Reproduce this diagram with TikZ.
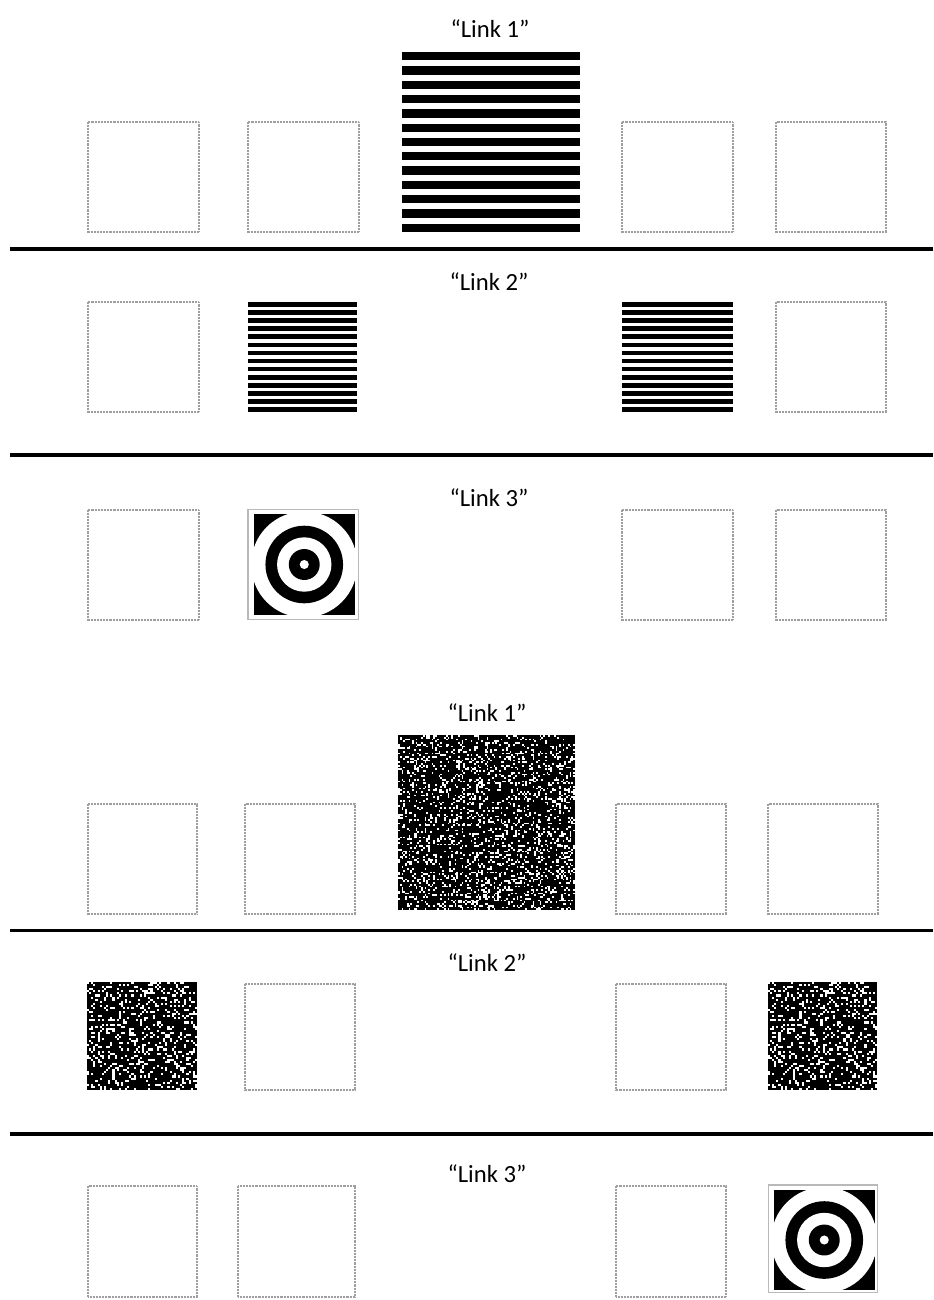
\documentclass[tikz,border=0pt]{standalone}
\usepackage{fontspec}
\setmainfont{Carlito}
\tikzset{
  dbox/.style={draw=gray!75, line width=1.2pt, dash pattern=on 0.7pt off 0.4pt},
  sep/.style={line width=2.6pt, black},
  lab/.style={font=\fontsize{18.5}{21}\selectfont, text=black, inner sep=0pt},
  tborder/.style={draw=gray!55, line width=1.3pt},
}
% striped square: x1 y1 x2 y2 nblack blackfraction
\newcommand\stripesq[6]{%
  \pgfmathsetmacro\stp{(#4-#2)/(#5-1+#6)}%
  \pgfmathsetmacro\stb{\stp*#6}%
  \pgfmathtruncatemacro\stn{#5-1}%
  \foreach \k in {0,...,\stn}{%
    \fill[black] ({#1},{#2+\k*\stp}) rectangle ({#3},{#2+\k*\stp+\stb});}%
}
% noise square: x1 y1 x2 y2 ncols nrows density
\newcommand\noisesq[7]{%
  \fill[black] (#1,#2) rectangle (#3,#4);%
  \pgfmathsetmacro\ncw{(#3-#1)/#5}%
  \pgfmathsetmacro\nch{(#4-#2)/#6}%
  \pgfmathtruncatemacro\nnc{#5-1}%
  \pgfmathtruncatemacro\nnr{#6-1}%
  \foreach \i in {0,...,\nnc}{\foreach \j in {0,...,\nnr}{%
    \pgfmathrnd
    \ifdim\pgfmathresult pt<#7pt
      \fill[white] ({#1+\i*\ncw},{#2+\j*\nch}) rectangle ++(\ncw,\nch);
    \fi}}%
}
% target: border x1 y1 x2 y2, clip x1 y1 x2 y2
\newcommand\targetsq[8]{%
  \draw[tborder] (#1,#2) rectangle (#3,#4);%
  \begin{scope}
    \clip (#5,#6) rectangle (#7,#8);
    \fill[black] (#5,#6) rectangle (#7,#8);
    \pgfmathsetmacro\tcx{(#5+#7)/2}\pgfmathsetmacro\tcy{(#6+#8)/2}
    \fill[white] (\tcx,\tcy) circle[radius=39.8pt];
    \fill[black] (\tcx,\tcy) circle[radius=29.1pt];
    \fill[white] (\tcx,\tcy) circle[radius=20.4pt];
    \fill[black] (\tcx,\tcy) circle[radius=11.6pt];
    \fill[white] (\tcx,\tcy) circle[radius=3.4pt];
  \end{scope}%
}
\begin{document}
\begin{tikzpicture}[x=0.75pt,y=-0.75pt]
\useasboundingbox[fill=white] (0,0) rectangle (933,1300);

% ---------------- upper half ----------------
\node[lab] (u1) at (490,29) {“Link 1”};
\draw[dbox] (88,122) rectangle (199,232);
\draw[dbox] (248,122) rectangle (359,232);
\draw[dbox] (622,122) rectangle (733,232);
\draw[dbox] (776,122) rectangle (886,232);
\stripesq{402}{52}{580}{232}{13}{0.58}
\draw[sep] (10,249) -- (933,249);

\node[lab] (u2) at (489,282) {“Link 2”};
\draw[dbox] (88,302) rectangle (199,412);
\draw[dbox] (776,302) rectangle (886,412);
\stripesq{248}{302}{357}{412}{14}{0.56}
\stripesq{622}{302}{733}{412}{14}{0.56}
\draw[sep] (10,455) -- (933,455);

\node[lab] (u3) at (489,498) {“Link 3”};
\draw[dbox] (88,510) rectangle (199,620);
\draw[dbox] (622,510) rectangle (733,620);
\draw[dbox] (776,510) rectangle (886,620);
\targetsq{248}{509.5}{358.5}{619.5}{253.5}{514}{355}{615}

% ---------------- lower half ----------------
\node[lab] (l1) at (487,713) {“Link 1”};
\draw[dbox] (88,804) rectangle (197,914);
\draw[dbox] (245,804) rectangle (355,914);
\draw[dbox] (616,804) rectangle (726,914);
\draw[dbox] (768,804) rectangle (878,914);
\pgfmathsetseed{17}
\noisesq{398}{735}{575}{910}{100}{100}{0.2}
\draw[sep] (10,930.5) -- (933,930.5);

\node[lab] (l2) at (487,963) {“Link 2”};
\pgfmathsetseed{23}
\noisesq{87}{982}{197}{1090}{52}{52}{0.22}
\pgfmathsetseed{23}
\noisesq{768}{982}{877}{1090}{52}{52}{0.22}
\draw[dbox] (245,984) rectangle (355,1090);
\draw[dbox] (616,984) rectangle (726,1090);
\draw[sep] (10,1134) -- (933,1134);

\node[lab] (l3) at (487,1174) {“Link 3”};
\draw[dbox] (88,1186) rectangle (197,1297);
\draw[dbox] (238,1186) rectangle (355,1297);
\draw[dbox] (616,1186) rectangle (726,1297);
\targetsq{768.5}{1185}{877.5}{1292.5}{773.5}{1190}{875}{1290}
\end{tikzpicture}
\end{document}
